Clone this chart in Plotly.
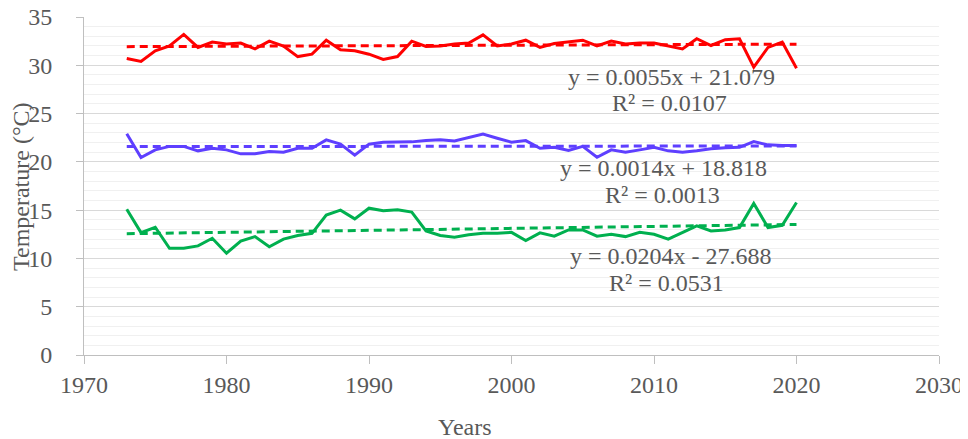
import plotly.graph_objects as go

years = list(range(1973, 2021))

tmax = [30.7, 30.4, 31.5, 32.0, 33.2, 31.85, 32.4, 32.2, 32.3, 31.7,
        32.5, 32.0, 30.9, 31.15, 32.6, 31.6, 31.5, 31.15, 30.6, 30.9,
        32.5, 31.95, 32.0, 32.2, 32.3, 33.15, 32.0, 32.2, 32.6, 31.85,
        32.25, 32.4, 32.6, 32.0, 32.5, 32.2, 32.3, 32.3, 32.0, 31.7,
        32.75, 32.05, 32.65, 32.75, 29.8, 31.85, 32.4, 29.7]

tmean = [22.9, 20.45, 21.24, 21.6, 21.6, 21.14, 21.4, 21.24, 20.83, 20.83,
         21.07, 21.0, 21.4, 21.4, 22.28, 21.83, 20.7, 21.83, 22.04, 22.04,
         22.07, 22.2, 22.28, 22.17, 22.5, 22.87, 22.45, 22.04, 22.2, 21.4,
         21.5, 21.17, 21.6, 20.48, 21.24, 21.0, 21.24, 21.5, 21.14, 21.0,
         21.14, 21.35, 21.45, 21.5, 22.1, 21.76, 21.7, 21.7]

tmin = [15.1, 12.68, 13.23, 11.05, 11.05, 11.3, 12.09, 10.54, 11.8, 12.26,
        11.2, 12.0, 12.37, 12.6, 14.5, 15.0, 14.1, 15.2, 14.95, 15.05,
        14.8, 12.85, 12.37, 12.2, 12.45, 12.6, 12.6, 12.7, 11.85, 12.65,
        12.3, 12.95, 12.95, 12.3, 12.5, 12.26, 12.7, 12.5, 12.0, 12.7,
        13.37, 12.85, 12.95, 13.2, 15.7, 13.2, 13.43, 15.8]

slopes = [0.0055, 0.0014, 0.0204]
intercepts = [21.079, 18.818, -27.688]
eq_labels = ["y = 0.0055x + 21.079", "y = 0.0014x + 18.818", "y = 0.0204x - 27.688"]
r2_labels = ["R² = 0.0107", "R² = 0.0013", "R² = 0.0531"]

x_ticks = [1970, 1980, 1990, 2000, 2010, 2020, 2030]
y_ticks = [0, 5, 10, 15, 20, 25, 30, 35]

colors = ["#FF0000", "#5E3FFF", "#00B04F"]
series = [tmax, tmean, tmin]

# label positions (year, temperature) for equation and R² text
eq_pos = [(2011.2, 28.8), (2010.7, 19.4), (2011.2, 10.3)]
r2_pos = [(2011.1, 26.1), (2010.6, 16.6), (2010.9, 7.45)]

fig = go.Figure()
for vals, col in zip(series, colors):
    fig.add_trace(go.Scatter(x=years, y=vals, mode="lines",
                             line=dict(color=col, width=3), showlegend=False))
for s, b, col in zip(slopes, intercepts, colors):
    xs = [years[0], years[-1]]
    fig.add_trace(go.Scatter(x=xs, y=[s * x + b for x in xs], mode="lines",
                             line=dict(color=col, width=3, dash="8px,5px"),
                             showlegend=False))

font_fam = "Liberation Serif, Times New Roman, serif"
txt_col = "#595959"
FS = 24
tfont = dict(family=font_fam, size=FS, color=txt_col)

# page body has an 8px margin; figure is sized so that page = 968 x 439
OFF = 8
W, H = 968 - OFF, 439 - OFF
L, R, T, B = 84 - OFF, 939 - OFF, 17 - OFF, 355 - OFF
pw, ph = R - L, B - T

annots = []
for (ex, ey), (rx, ry), e, r in zip(eq_pos, r2_pos, eq_labels, r2_labels):
    annots.append(dict(x=ex, y=ey, text=e, showarrow=False, xanchor="center",
                       yanchor="middle", font=tfont))
    annots.append(dict(x=rx, y=ry, text=r, showarrow=False, xanchor="center",
                       yanchor="middle", font=tfont))
annots.append(dict(x=(465 - OFF - L) / pw, y=-(427 - OFF - B) / ph, xref="paper", yref="paper",
                   text="Years", showarrow=False, xanchor="center", yanchor="middle",
                   font=tfont))
annots.append(dict(x=(21 - OFF - L) / pw, y=(B - (187 - OFF)) / ph, xref="paper", yref="paper",
                   text="Temperature (°C)", textangle=-90, showarrow=False,
                   xanchor="center", yanchor="middle", font=tfont))

fig.update_layout(
    width=W, height=H,
    margin=dict(l=L, r=W - R, t=T, b=H - B, autoexpand=False),
    plot_bgcolor="white", paper_bgcolor="white",
    font=tfont,
    annotations=annots,
    xaxis=dict(range=[1970, 2030], tickvals=x_ticks, ticktext=[str(t) for t in x_ticks],
               showgrid=False, showline=True, linecolor="#bfbfbf", linewidth=1,
               ticks="outside", ticklen=8, tickcolor="#bfbfbf", zeroline=False,
               automargin=False, ticklabelstandoff=0, ticklabeloverflow="allow",
               tickfont=tfont),
    yaxis=dict(range=[0, 35], tickvals=y_ticks, ticktext=[str(t) for t in y_ticks],
               showgrid=True, gridcolor="#d9d9d9", gridwidth=1,
               minor=dict(dtick=1, showgrid=True, gridcolor="#f0f0f0", gridwidth=1),
               showline=True, linecolor="#bfbfbf", linewidth=1,
               ticks="outside", ticklen=7, tickcolor="#bfbfbf", zeroline=False,
               automargin=False, ticklabelstandoff=19, ticklabeloverflow="allow",
               tickfont=tfont),
)

fig.write_html("out.html")
